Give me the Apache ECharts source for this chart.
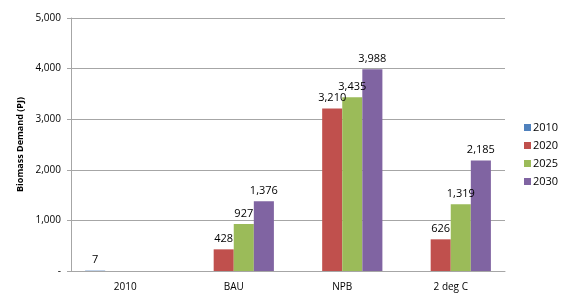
<!DOCTYPE html>
<html><head><meta charset="utf-8">
<script src="https://cdn.jsdelivr.net/npm/echarts@6/dist/echarts.min.js"></script>
<style>html,body{margin:0;padding:0;background:#fff}#c{width:565px;height:303px}</style>
</head><body><div id="c"></div>
<script>
const categories = ['2010', 'BAU', 'NPB', '2 deg C'];
const seriesNames = ['2010', '2020', '2025', '2030'];
const s2010 = [7, null, null, null];
const s2020 = [null, 428, 3210, 626];
const s2025 = [null, 927, 3435, 1319];
const s2030 = [null, 1376, 3988, 2185];
const yTicks = [0, 1000, 2000, 3000, 4000, 5000];
const colors = ['#4F81BD', '#C0504D', '#9BBB59', '#8064A2'];
const values = [s2010, s2020, s2025, s2030];
const FONT = '"Open Sans", "Liberation Sans", sans-serif';
const fmt = v => v === 0 ? '-' : v.toLocaleString('en-US');
const chart = echarts.init(document.getElementById('c'));
chart.setOption({
  animation: false,
  textStyle: { fontFamily: FONT },
  grid: { left: 71, right: 60, top: 18, bottom: 32 },
  legend: {
    orient: 'vertical', left: 519, top: 117, itemWidth: 7, itemHeight: 7, itemGap: 7,
    icon: 'rect',
    textStyle: { fontSize: 11, color: '#000', fontFamily: FONT, padding: [0, 0, 0, -3] },
    data: seriesNames
  },
  xAxis: {
    type: 'category', data: categories,
    axisLine: { lineStyle: { color: '#A6A6A6', width: 1 } },
    axisTick: { show: false },
    axisLabel: { color: '#000', fontSize: 10, margin: 11, fontFamily: FONT }
  },
  yAxis: {
    type: 'value', min: yTicks[0], max: yTicks[yTicks.length - 1], interval: 1000,
    name: 'Biomass Demand (PJ)', nameLocation: 'middle', nameGap: 41, nameRotate: 90,
    nameTextStyle: { fontSize: 9, fontWeight: 'bold', color: '#000', fontFamily: FONT },
    axisLine: { show: true, lineStyle: { color: '#A6A6A6', width: 1 } },
    axisTick: { show: true, length: 4, lineStyle: { color: '#A6A6A6' } },
    splitLine: { lineStyle: { color: '#A6A6A6', width: 1 } },
    axisLabel: { color: '#000', fontSize: 10, margin: 10, formatter: fmt, fontFamily: FONT }
  },
  series: seriesNames.map((n, i) => ({
    name: n, type: 'bar', data: values[i],
    barGap: '0%', barCategoryGap: '26%',
    itemStyle: { color: colors[i] },
    label: { show: true, position: 'top', distance: 5, color: '#000', fontSize: 11, fontFamily: FONT,
      formatter: p => p.value == null ? '' : fmt(p.value) }
  }))
});
</script></body></html>
